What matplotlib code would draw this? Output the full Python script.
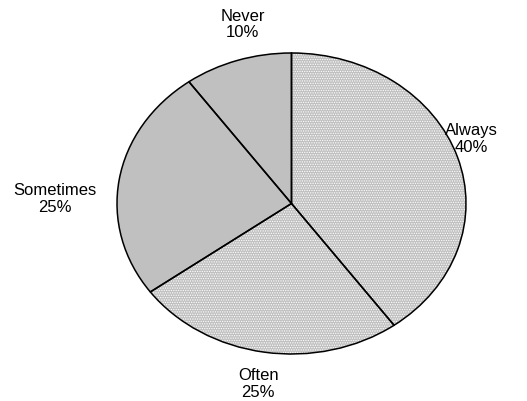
import matplotlib
matplotlib.use("Agg")
import matplotlib.pyplot as plt

plt.rcParams['font.family'] = ['Liberation Sans', 'DejaVu Sans']
plt.rcParams['hatch.linewidth'] = 0.6

categories = ["Always", "Often", "Sometimes", "Never"]
shares = [40, 25, 25, 10]
hatched = [True, True, False, False]

# where each label sits, in the pie's own (-1..1) frame
label_pos = [(1.03, 0.43), (-0.19, -1.2), (-1.355, 0.03), (-0.28, 1.19)]

fig = plt.figure(figsize=(5.27, 4.01), dpi=100)
W, H = 527, 401
ax = fig.add_axes([117 / W, (H - 354) / H, (466 - 117) / W, (354 - 53) / H])

# fill layer (dots are drawn as a white hatch on grey)
wedges, _ = ax.pie(shares, startangle=90, counterclock=False, radius=1,
                   colors=['#c0c0c0'] * len(shares),
                   wedgeprops=dict(linewidth=0, edgecolor='white'))
for w, h in zip(wedges, hatched):
    if h:
        w.set_hatch('.' * 7)

# outline layer
ax.pie(shares, startangle=90, counterclock=False, radius=1,
       colors=['none'] * len(shares),
       wedgeprops=dict(linewidth=1.1, edgecolor='black'))

for name, val, (x, y) in zip(categories, shares, label_pos):
    ax.text(x, y, f"{name}\n{val}%", ha='center', va='center',
            fontsize=12, linespacing=1.15)

ax.set_aspect('auto')
ax.set_xlim(-1, 1)
ax.set_ylim(-1, 1)
ax.axis('off')

fig.savefig("out.png", dpi=100)
